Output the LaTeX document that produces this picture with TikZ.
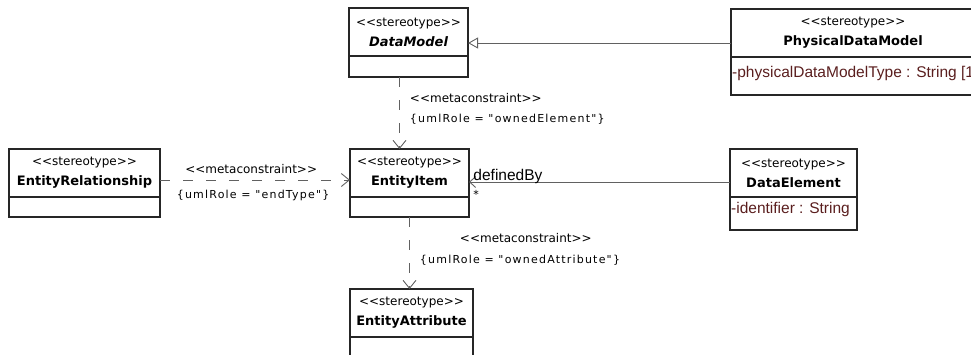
\documentclass[tikz,border=0pt]{standalone}
\usepackage{fontspec}
\setmainfont{DejaVu Sans}
\newfontfamily\attrfont{Liberation Sans}
\newfontfamily\rolefont[LetterSpace=11]{DejaVu Sans}
\usepackage{xcolor}
\usetikzlibrary{arrows.meta,positioning}

\definecolor{boxline}{gray}{0.15}
\definecolor{linegray}{gray}{0.38}
\definecolor{attrred}{RGB}{90,30,30}

\newcommand{\dlt}{<\kern0pt<}
\newcommand{\dgt}{>\kern0pt>}
\newcommand{\classname}[1]{\dlt stereotype\dgt\\{\fontsize{13}{20}\selectfont\bfseries #1}}

\tikzset{
  classbox/.style={draw=boxline, line width=1.2pt, minimum height=48pt, inner sep=0pt, outer sep=0pt,
    anchor=north west, align=center, font=\fontsize{12}{20}\selectfont},
  attrbox/.style={draw=boxline, line width=1.2pt, inner sep=0pt, outer sep=0pt, anchor=north west},
  attrtext/.style={anchor=north west, inner sep=0pt, text=attrred, font=\attrfont\fontsize{15.5}{18}\selectfont},
  meta/.style={inner sep=0pt, font=\fontsize{12}{14}\selectfont},
  role/.style={inner sep=0pt, font=\rolefont\fontsize{11}{14}\selectfont},
  dep/.style={draw=linegray, line width=0.9pt, dash pattern=on 10pt off 13pt,
    -{Straight Barb[length=8pt,width=13pt]}},
  gen/.style={draw=linegray, line width=0.9pt, -{Triangle[open,length=10pt,width=11pt]}},
  assoc/.style={draw=linegray, line width=0.9pt, -{Straight Barb[length=6pt,width=11pt]}},
}

\begin{document}
\begin{tikzpicture}[x=1pt, y=-1pt]
\useasboundingbox (0,0) rectangle (971,354);
\clip (0,0) rectangle (971,354);

% classes
\node[classbox, minimum width=119pt] (dmhead) at (349,8)
  {\dlt stereotype\dgt\\{\fontsize{13}{20}\selectfont\bfseries\itshape DataModel}};
\node[attrbox, minimum width=119pt, minimum height=21pt] (dmattr) at (dmhead.south west) {};

\node[classbox, minimum width=244pt] (pdmhead) at (731,9) {\classname{PhysicalDataModel}};
\node[attrbox, minimum width=244pt, minimum height=38pt] (pdmattr) at (pdmhead.south west) {};
\node[attrtext] (pdmtype) at ([xshift=1pt,yshift=-9pt]pdmattr.north west)
  {-physicalDataModelType : String [1]};

\node[classbox, minimum width=151pt] (erhead) at (9,149) {\classname{EntityRelationship}};
\node[attrbox, minimum width=151pt, minimum height=20pt] (erattr) at (erhead.south west) {};

\node[classbox, minimum width=119pt] (eihead) at (350,149) {\classname{EntityItem}};
\node[attrbox, minimum width=119pt, minimum height=20pt] (eiattr) at (eihead.south west) {};

\node[classbox, minimum width=127pt] (dehead) at (730,149) {\classname{DataElement}};
\node[attrbox, minimum width=127pt, minimum height=33pt] (deattr) at (dehead.south west) {};
\node[attrtext] (deid) at ([xshift=1pt,yshift=-5pt]deattr.north west) {-identifier : String};

\node[classbox, minimum width=123pt] (eahead) at (350,289) {\classname{EntityAttribute}};
\node[attrbox, minimum width=123pt, minimum height=30pt] (eaattr) at (eahead.south west) {};

% connectors
\draw[gen] ([yshift=-10pt]pdmhead.west) -- ([yshift=-10pt]pdmhead.west -| dmhead.east);

\draw[dep] ([xshift=-9pt]dmattr.south) -- ([xshift=-9pt]dmattr.south |- eihead.north)
  node[meta, pos=0.29, anchor=west, xshift=10pt] {\dlt metaconstraint\dgt}
  node[role, pos=0.58, anchor=west, xshift=10pt] {\{umlRole = "ownedElement"\}};

\draw[dep] ([yshift=-7pt]erhead.east) -- ([yshift=-7pt]erhead.east -| eihead.west)
  node[meta, pos=0.48, above=6pt] {\dlt metaconstraint\dgt}
  node[role, pos=0.49, below=10pt] {\{umlRole = "endType"\}};

\draw[assoc] ([yshift=-9pt]dehead.west) -- ([yshift=-9pt]dehead.west -| eihead.east)
  node[pos=1, anchor=base west, xshift=4pt, yshift=2pt, inner sep=0pt,
    font=\attrfont\fontsize{15.5}{18}\selectfont] {definedBy}
  node[pos=1, anchor=north west, xshift=4pt, yshift=-8pt, inner sep=0pt,
    font=\fontsize{11}{12}\selectfont] {*};

\draw[dep] (eiattr.south) -- (eiattr.south |- eahead.north)
  node[meta, pos=0.29, anchor=west, xshift=50pt] {\dlt metaconstraint\dgt}
  node[role, pos=0.6, anchor=west, xshift=10pt] {\{umlRole = "ownedAttribute"\}};
\end{tikzpicture}
\end{document}
